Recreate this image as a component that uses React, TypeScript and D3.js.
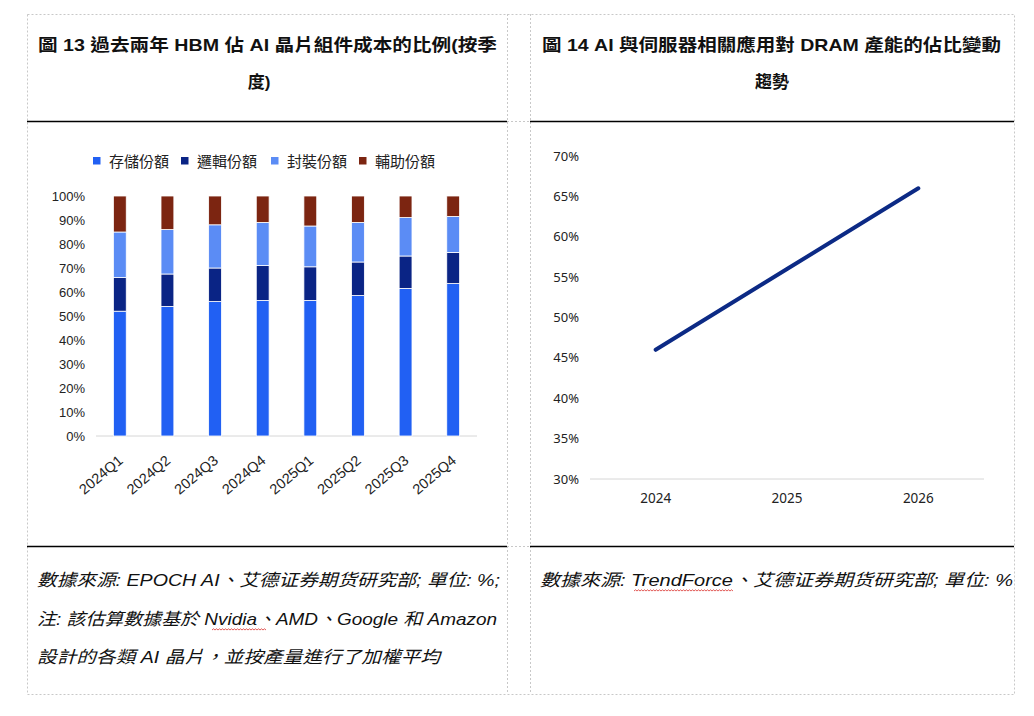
import { FC } from 'react'
import * as d3 from 'd3'

// 圖 13 data: share of AI chip component cost (%)
const quarters = ['2024Q1', '2024Q2', '2024Q3', '2024Q4', '2025Q1', '2025Q2', '2025Q3', '2025Q4']
const storageShare = [52, 54, 56, 56.5, 56.5, 58.5, 61.5, 63.5]
const logicShare = [14, 13.5, 14, 14.5, 14, 14, 13.5, 13]
const packagingShare = [19, 18.5, 18, 18, 17, 16.5, 16, 15]
const auxShare = [15, 14, 12, 11, 12.5, 11, 9, 8.5]
const seriesNames = ['存儲份額', '邏輯份額', '封裝份額', '輔助份額']
const barTicks = [0, 10, 20, 30, 40, 50, 60, 70, 80, 90, 100]

// 圖 14 data: AI + server share of DRAM capacity (%)
const years = ['2024', '2025', '2026']
const dramShare = [46, 56, 66]
const lineTicks = [30, 35, 40, 45, 50, 55, 60, 65, 70]

const colors = ['#2160f3', '#0a2485', '#5b8cf5', '#7c2511']
const CJK = '"Liberation Sans", Arial, "Noto Sans CJK TC", sans-serif'

const wavy = (x0: number, x1: number, y: number) => {
  const p = d3.path()
  p.moveTo(x0, y)
  let up = true
  for (let x = x0 + 1.5; x <= x1; x += 1.5) {
    p.lineTo(x, up ? y - 1.2 : y)
    up = !up
  }
  return p.toString()
}

const BarChart: FC = () => {
  const x = d3.scaleBand().domain(quarters).range([96, 477]).paddingInner(0.73).paddingOuter(0.365)
  const y = d3.scaleLinear().domain([0, 100]).range([436, 196])
  const rows = quarters.map((q, i) => ({
    q,
    s0: storageShare[i],
    s1: logicShare[i],
    s2: packagingShare[i],
    s3: auxShare[i],
  }))
  const stack = d3.stack<typeof rows[0]>().keys(['s0', 's1', 's2', 's3'])(rows)
  const legendX = [93, 181, 271, 359]

  return (
    <g>
      {seriesNames.map((n, i) => (
        <g key={n}>
          <rect x={legendX[i]} y={157} width={7.5} height={7.5} fill={colors[i]} />
          <text x={legendX[i] + 16} y={166.5} fontSize={15} fill="#222" fontFamily={CJK}>{n}</text>
        </g>
      ))}
      {barTicks.map(t => (
        <text key={t} x={85} y={y(t) + 4.5} textAnchor="end" fontSize={13} fill="#222" fontFamily={CJK}>{t}%</text>
      ))}
      <line x1={96} x2={477} y1={y(0)} y2={y(0)} stroke="#d6d6d6" />
      {stack.map((layer, li) => (
        <g key={li} fill={colors[li]}>
          {layer.map(d => (
            <rect
              key={d.data.q}
              x={x(d.data.q)}
              y={y(d[1])}
              width={x.bandwidth()}
              height={y(d[0]) - y(d[1])}
              stroke="#fff"
              strokeWidth={0.8}
            />
          ))}
        </g>
      ))}
      {quarters.map(q => (
        <text
          key={q}
          transform={`translate(${(x(q) ?? 0) + x.bandwidth() / 2 + 4},${462}) rotate(-40)`}
          textAnchor="end"
          fontSize={14.5}
          fill="#222"
          fontFamily={CJK}
        >{q}</text>
      ))}
    </g>
  )
}

const LineChart: FC = () => {
  const x = d3.scalePoint().domain(years).range([590, 984]).padding(0.5)
  const y = d3.scaleLinear().domain([30, 70]).range([479, 156])
  const line = d3.line<number>()
    .x((_, i) => x(years[i]) ?? 0)
    .y(d => y(d))

  return (
    <g>
      {lineTicks.map(t => (
        <text key={t} x={579} y={y(t) + 4.5} textAnchor="end" fontSize={13} fill="#222" fontFamily='"Noto Sans", sans-serif'>{t}%</text>
      ))}
      <line x1={590} x2={984} y1={y(30)} y2={y(30)} stroke="#d6d6d6" />
      {years.map(yr => (
        <text key={yr} x={x(yr)} y={503} textAnchor="middle" fontSize={13.5} fill="#222" fontFamily='"Noto Sans", sans-serif'>{yr}</text>
      ))}
      <path d={line(dramShare) ?? ''} fill="none" stroke="#0c2a85" strokeWidth={4} strokeLinecap="round" />
    </g>
  )
}

const App: FC = () => {
  const dash = { stroke: '#c8c8c8', strokeDasharray: '2,2', strokeWidth: 1 }
  const noteStyle = { fontSize: 17, fill: '#111', fontStyle: 'italic' as const, fontFamily: CJK }
  return (
    <div style={{ position: 'absolute', left: 0, top: 0 }}>
      <svg width={1034} height={716} style={{ display: 'block', background: '#fff' }}>
        <rect x={27.5} y={14.5} width={987} height={680} fill="none" {...dash} />
        <line x1={507.5} x2={507.5} y1={14} y2={694} {...dash} />
        <line x1={530.5} x2={530.5} y1={14} y2={694} {...dash} />
        <line x1={507} x2={530} y1={121.5} y2={121.5} {...dash} />
        <line x1={507} x2={530} y1={546.5} y2={546.5} {...dash} />
        <line x1={27} x2={507} y1={121.5} y2={121.5} stroke="#000" strokeWidth={1.5} />
        <line x1={530} x2={1014} y1={121.5} y2={121.5} stroke="#000" strokeWidth={1.5} />
        <line x1={27} x2={507} y1={546.5} y2={546.5} stroke="#000" strokeWidth={1.5} />
        <line x1={530} x2={1014} y1={546.5} y2={546.5} stroke="#000" strokeWidth={1.5} />

        <g fontFamily={CJK} fontWeight="bold" fontSize={17} fill="#111">
          <text x={38} y={51} textLength={459} lengthAdjust="spacingAndGlyphs">圖 13 過去兩年 HBM 佔 AI 晶片組件成本的比例(按季</text>
          <text x={259} y={88} textAnchor="middle">度)</text>
          <text x={542} y={51} textLength={459} lengthAdjust="spacingAndGlyphs">圖 14 AI 與伺服器相關應用對 DRAM 產能的佔比變動</text>
          <text x={772} y={88} textAnchor="middle">趨勢</text>
        </g>

        <BarChart />
        <LineChart />

        <text x={37} y={586} {...noteStyle} textLength={463} lengthAdjust="spacingAndGlyphs">數據來源: EPOCH AI、艾德证券期货研究部; 單位: %;</text>
        <text x={37} y={625} {...noteStyle} textLength={460} lengthAdjust="spacingAndGlyphs">注: 該估算數據基於 Nvidia、AMD、Google 和 Amazon</text>
        <text x={37} y={663} {...noteStyle} textLength={403} lengthAdjust="spacingAndGlyphs">設計的各類 AI 晶片，並按產量進行了加權平均</text>
        <text x={540} y={586} {...noteStyle} textLength={473} lengthAdjust="spacingAndGlyphs">數據來源: TrendForce、艾德证券期货研究部; 單位: %</text>
        <path d={wavy(212, 266, 630)} fill="none" stroke="#d9302c" strokeWidth={0.8} />
        <path d={wavy(634, 734, 591)} fill="none" stroke="#d9302c" strokeWidth={0.8} />
      </svg>
    </div>
  )
}

export default App
